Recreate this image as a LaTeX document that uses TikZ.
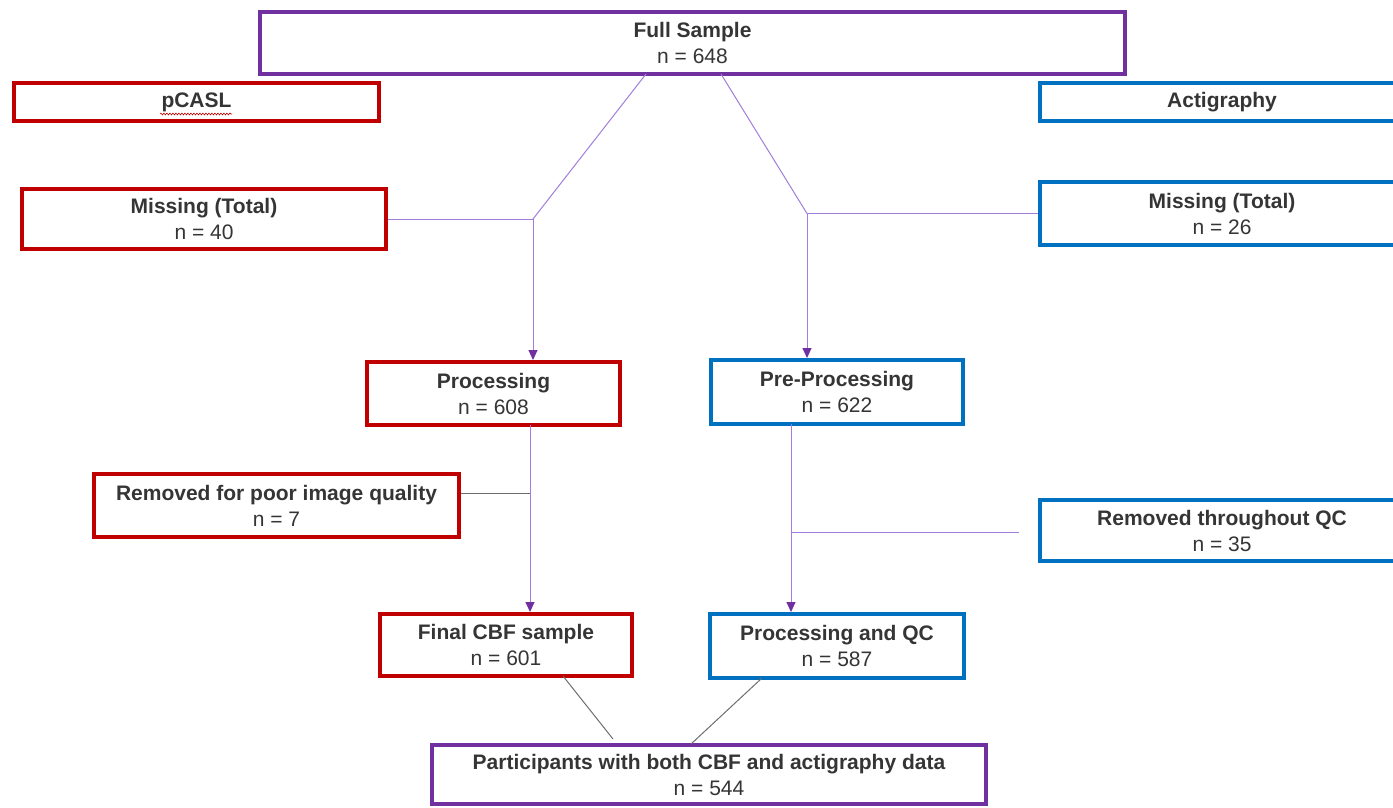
\documentclass[tikz,border=0pt]{standalone}
\usepackage{fontspec}
\setmainfont{Liberation Sans}
\usetikzlibrary{arrows.meta,decorations.pathmorphing}
\definecolor{cpurple}{HTML}{7030A0}
\definecolor{cred}{HTML}{C00000}
\definecolor{cblue}{HTML}{0070C0}
\definecolor{ctext}{HTML}{353535}
\definecolor{clav}{HTML}{A27DDB}
\definecolor{cgray}{HTML}{6E6E6E}
\tikzset{
  box/.style={draw, line width=4pt, fill=white, inner sep=0pt, align=center, text=ctext,
    font=\fontsize{21}{26}\selectfont},
  pbox/.style={box, draw=cpurple},
  rbox/.style={box, draw=cred},
  bbox/.style={box, draw=cblue},
  lav/.style={draw=clav, line width=1pt},
  lavarrow/.style={lav, -{Triangle[length=10pt,width=9pt,fill=cpurple,color=cpurple]}},
  graylink/.style={draw=cgray, line width=1pt}
}
\begin{document}
\begin{tikzpicture}[x=1pt,y=-1pt]
\useasboundingbox[fill=white] (0,0) rectangle (1393,807);
% boxes
\node[pbox, minimum width=865pt, minimum height=62pt] (full) at (692.5,43) {\textbf{Full Sample}\\n = 648};
\node[rbox, minimum width=365pt, minimum height=38pt] (pcasl) at (196.5,102) {\textbf{pCASL}};
\node[bbox, minimum width=364pt, minimum height=38pt] (acti) at (1222,102) {\textbf{Actigraphy}};
\node[rbox, minimum width=364pt, minimum height=60pt] (miss1) at (204,219) {\textbf{Missing (Total)}\\n = 40};
\node[bbox, minimum width=364pt, minimum height=63pt] (miss2) at (1222,213.5) {\textbf{Missing (Total)}\\n = 26};
\node[rbox, minimum width=253pt, minimum height=63pt] (proc) at (493.5,393.5) {\textbf{Processing}\\n = 608};
\node[bbox, minimum width=252pt, minimum height=64pt] (preproc) at (837,392) {\textbf{Pre-Processing}\\n = 622};
\node[rbox, minimum width=365pt, minimum height=63pt] (rem1) at (276.5,505.5) {\textbf{Removed for poor image quality}\\n = 7};
\node[bbox, minimum width=364pt, minimum height=61pt] (rem2) at (1222,530.5) {\textbf{Removed throughout QC}\\n = 35};
\node[rbox, minimum width=252pt, minimum height=62pt] (final) at (506,645) {\textbf{Final CBF sample}\\n = 601};
\node[bbox, minimum width=254pt, minimum height=64pt] (pqc) at (837,646) {\textbf{Processing and QC}\\n = 587};
\node[pbox, minimum width=554pt, minimum height=59pt] (both) at (709,774.5) {\textbf{Participants with both CBF and actigraphy data}\\n = 544};
% spell-check squiggle under pCASL
\draw[cred, line width=0.6pt, decorate, decoration={snake, amplitude=0.9pt, segment length=3pt}] (160,114) -- (232,114);
% junction coordinates
\coordinate (jL) at (533,219);
\coordinate (jR) at (807,213.5);
\coordinate (a1) at (530,493);
\coordinate (a2) at (791,532);
\coordinate (e2) at (1019,532);
\coordinate (b1) at (613,739);
\coordinate (b2) at (691,744);
% connectors
\draw[lav] ([xshift=-46.5pt,yshift=2pt]full.south) -- (jL);
\draw[lav] (miss1.east) -- (jL);
\draw[lavarrow] (jL) -- (jL |- proc.north);
\draw[lav] ([xshift=28.5pt,yshift=2pt]full.south) -- (jR);
\draw[lav] (miss2.west) -- (jR);
\draw[lavarrow] (jR) -- (jR |- preproc.north);
\draw[lavarrow] ([yshift=2pt]a1 |- proc.south) -- (a1 |- final.north);
\draw[graylink] (rem1.east |- a1) -- (a1);
\draw[lavarrow] ([yshift=2pt]a2 |- preproc.south) -- (a2 |- pqc.north);
\draw[lav] (a2) -- (e2);
\draw[graylink] ([xshift=57pt,yshift=2pt]final.south) -- (b1);
\draw[graylink] ([xshift=-75pt,yshift=2pt]pqc.south) -- (b2);
\end{tikzpicture}
\end{document}
